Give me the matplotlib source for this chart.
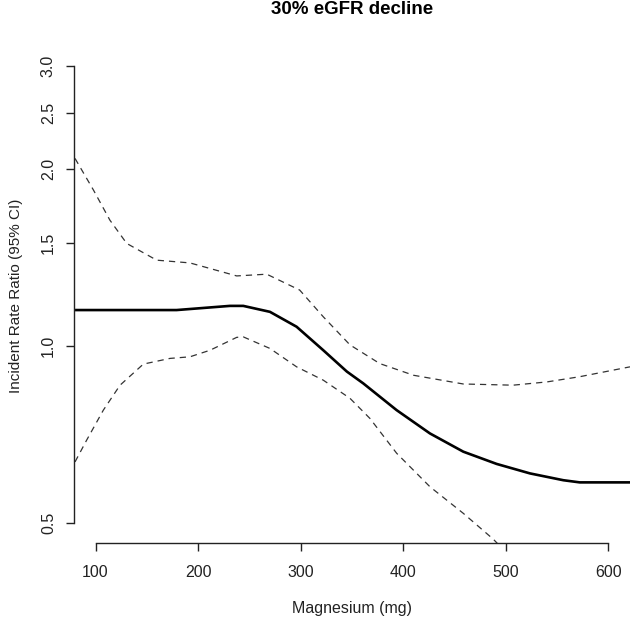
import numpy as np
import matplotlib.pyplot as plt

plt.rcParams['font.family'] = ['Liberation Sans', 'DejaVu Sans']

# magnesium intake (mg) and incident rate ratio
mg_est = [80, 130, 179, 231, 244, 270, 296, 322, 345, 361, 393.5, 426, 458.5,
          491, 523.5, 556, 572, 621]
irr_est = [1.152, 1.152, 1.152, 1.171, 1.171, 1.144, 1.079, 0.984, 0.905,
           0.864, 0.778, 0.710, 0.661, 0.630, 0.607, 0.591, 0.586, 0.586]

mg_upper = [80, 98, 114, 130.4, 159.6, 192, 211.6, 237.6, 266.9, 299, 322,
            348, 377, 410, 458.5, 507, 540, 572, 621]
irr_upper = [2.088, 1.844, 1.639, 1.496, 1.401, 1.386, 1.356, 1.317, 1.326,
             1.246, 1.122, 1.005, 0.934, 0.892, 0.862, 0.858, 0.869, 0.887,
             0.922]

mg_lower = [80, 91.4, 107.6, 123.9, 146.6, 172.6, 192, 211.6, 237.6, 244,
            270, 296, 322, 348, 367.5, 393.5, 426, 458.5, 487.7, 495]
irr_lower = [0.635, 0.692, 0.778, 0.858, 0.932, 0.953, 0.959, 0.984, 1.035,
             1.037, 0.991, 0.922, 0.875, 0.815, 0.753, 0.657, 0.576, 0.519,
             0.469, 0.455]

x_ticks = [100, 200, 300, 400, 500, 600]
y_ticks = [0.5, 1.0, 1.5, 2.0, 2.5, 3.0]

fig = plt.figure(figsize=(6.3, 6.2), dpi=100)
ax = fig.add_axes([74 / 630, (620 - 543) / 620, (630 - 74) / 630, (543 - 48) / 620])

ax.plot(mg_est, irr_est, color='black', lw=1.9, solid_capstyle='butt')
dash = (0, (5, 4))
ax.plot(mg_upper, irr_upper, color='#333333', lw=0.9, linestyle=dash)
ax.plot(mg_lower, irr_lower, color='#333333', lw=0.9, linestyle=dash)

ax.set_yscale('log')
ax.set_xlim(79, 621)
ax.set_ylim(0.462, 3.22)

ax.set_xticks(x_ticks)
ax.set_xticklabels([str(v) for v in x_ticks])
ax.set_yticks(y_ticks)
ax.set_yticklabels([f"{v:.1f}" for v in y_ticks], rotation=90, va='center')
ax.yaxis.set_minor_locator(plt.NullLocator())

for side in ['top', 'right']:
    ax.spines[side].set_visible(False)
ax.spines['left'].set_bounds(0.5, 3.0)
ax.spines['bottom'].set_bounds(100, 600)
for side in ['left', 'bottom']:
    ax.spines[side].set_color('#222222')
    ax.spines[side].set_linewidth(1.0)

ax.tick_params(axis='both', direction='out', length=6, width=1.0,
               color='#222222', labelsize=11.5, labelcolor='#222222')
ax.tick_params(axis='x', pad=10)
ax.tick_params(axis='y', pad=7)

ax.set_xlabel("Magnesium (mg)", fontsize=11.5, color='#222222', labelpad=15)
ax.set_ylabel("Incident Rate Ratio (95% CI)", fontsize=11, color='#222222', labelpad=13)
fig.text((74 + 630) / 2 / 630, 1 - 9 / 620, "30% eGFR decline", fontsize=13.5,
         fontweight='bold', ha='center', va='center')

fig.savefig("out.png", dpi=100)
